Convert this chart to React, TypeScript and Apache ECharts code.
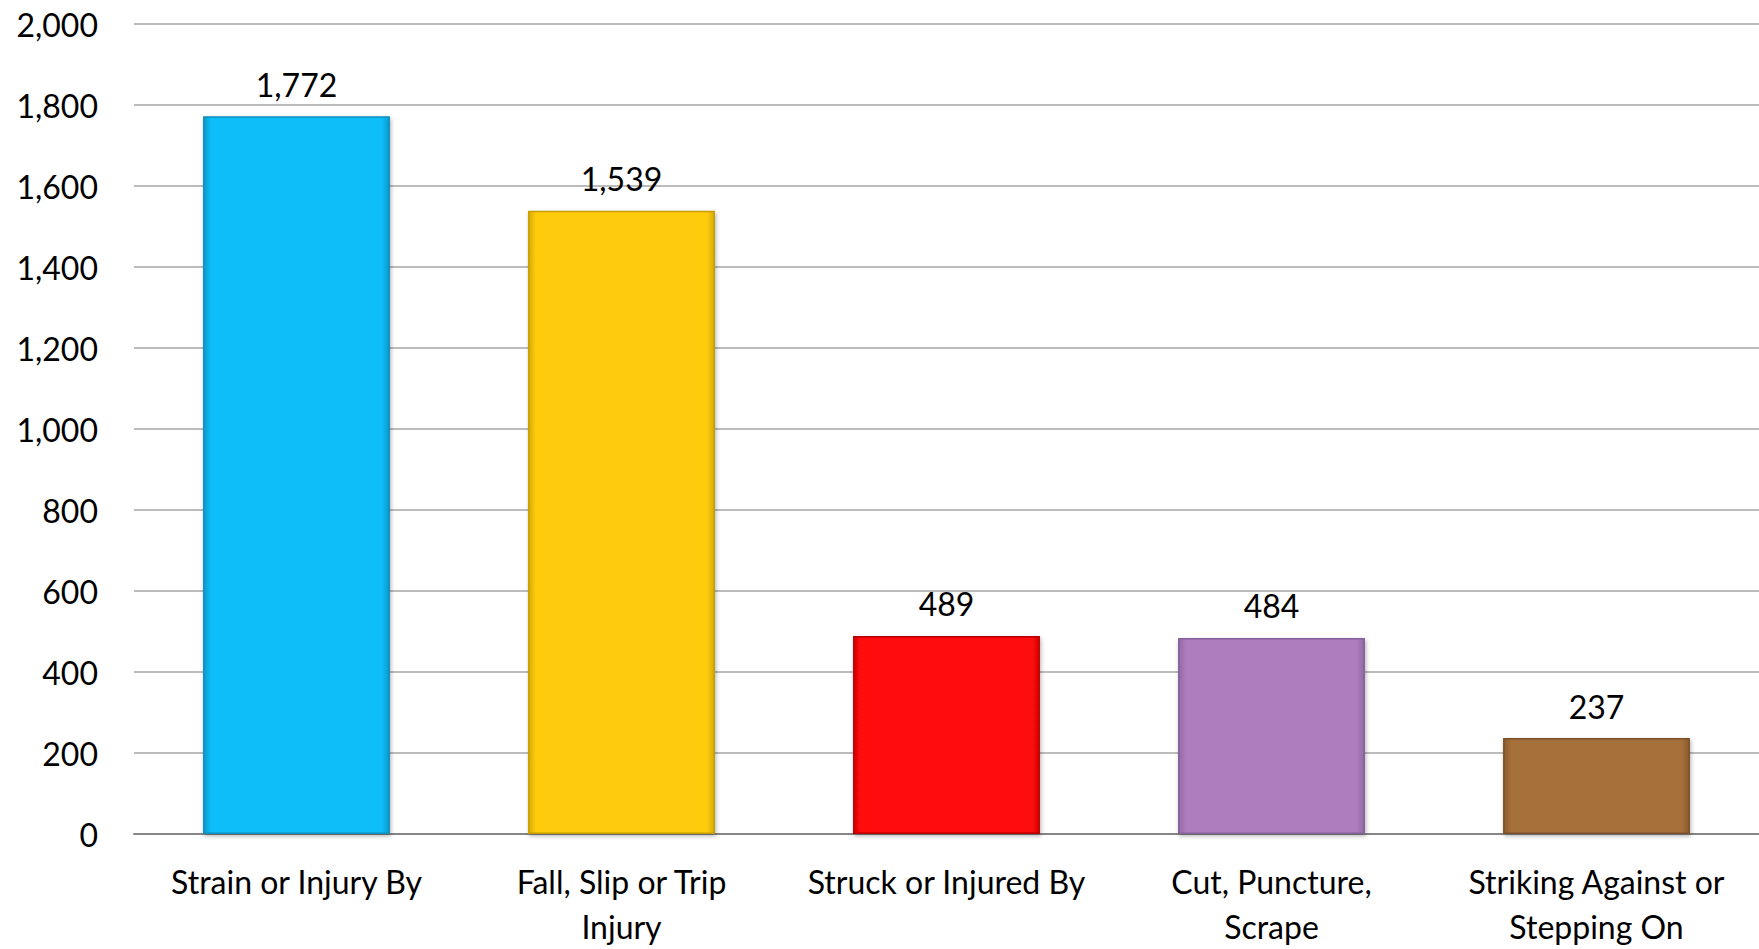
import React, { useEffect, useRef } from "react";
import * as echarts from "echarts";

const categories = [
  "Strain or Injury By",
  "Fall, Slip or Trip\nInjury",
  "Struck or Injured By",
  "Cut, Puncture,\nScrape",
  "Striking Against or\nStepping On",
];
const values = [1772, 1539, 489, 484, 237];
const barColors = ["#0BBEF8", "#FFCC08", "#FF0808", "#AD7DBD", "#A66F3A"];
const barEdges = ["#0A9ACB", "#D9AC06", "#D80505", "#9468A6", "#8A5C30"];
const barBorders = ["#0A8FBE", "#C79E05", "#B80404", "#86609A", "#7A5129"];
const yTicks = { min: 0, max: 2000, interval: 200 };

export default function App() {
  const ref = useRef<HTMLDivElement>(null);
  useEffect(() => {
    if (!ref.current) return;
    document.body.style.margin = "0";
    document.body.style.overflow = "hidden";
    const chart = echarts.init(ref.current, null, { renderer: "svg" });
    const font = "Lato, 'Open Sans', sans-serif";
    chart.setOption({
      animation: false,
      backgroundColor: "#ffffff",
      grid: { left: 134, right: 0, top: 24, bottom: 114, containLabel: false },
      xAxis: {
        type: "category",
        data: categories,
        axisLine: { show: true, lineStyle: { color: "#868686", width: 2 } },
        axisTick: { show: false },
        axisLabel: {
          color: "#000",
          fontFamily: font,
          fontSize: 32,
          lineHeight: 45,
          margin: 25,
          interval: 0,
        },
      },
      yAxis: {
        type: "value",
        min: yTicks.min,
        max: yTicks.max,
        interval: yTicks.interval,
        axisLine: { show: false },
        axisTick: { show: false },
        splitLine: { lineStyle: { color: "#A6A6A6", width: 1.5 } },
        axisLabel: {
          color: "#000",
          fontFamily: font,
          fontSize: 32,
          margin: 36,
          formatter: (v: number) => v.toLocaleString("en-US"),
        },
      },
      series: [
        {
          type: "bar",
          barWidth: "57.5%",
          data: values.map((v, i) => ({
            value: v,
            itemStyle: {
              color: new echarts.graphic.LinearGradient(0, 0, 1, 0, [
                { offset: 0, color: barEdges[i] },
                { offset: 0.04, color: barColors[i] },
                { offset: 0.96, color: barColors[i] },
                { offset: 1, color: barEdges[i] },
              ]),
              borderColor: barBorders[i],
              borderWidth: 1.5,
              shadowColor: "rgba(0,0,0,0.3)",
              shadowBlur: 4,
              shadowOffsetX: 1,
              shadowOffsetY: 2,
            },
          })),
          label: {
            show: true,
            position: "top",
            distance: 16,
            color: "#000",
            fontFamily: font,
            fontSize: 32,
            formatter: (p: any) => Number(p.value).toLocaleString("en-US"),
          },
        },
      ],
    });
    return () => chart.dispose();
  }, []);
  return (
    <div
      ref={ref}
      style={{ position: "fixed", left: 0, top: 0, width: 1759, height: 949, overflow: "hidden" }}
    />
  );
}
